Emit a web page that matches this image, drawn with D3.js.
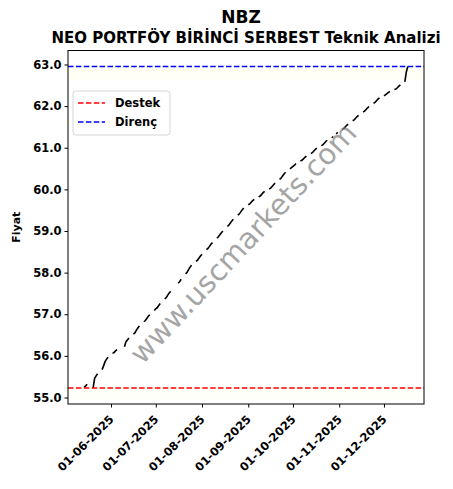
<!DOCTYPE html>
<html>
<head>
<meta charset="utf-8">
<script src="https://cdn.jsdelivr.net/npm/d3@7"></script>
<style>
  body { margin: 0; background: #fff; }
  text { font-family: "DejaVu Sans", sans-serif; font-weight: bold; }
</style>
</head>
<body>
<div id="chart"></div>
<script>
// Chart data: trading days per month and closing prices
var months = ["2025-05", "2025-06", "2025-07", "2025-08", "2025-09", "2025-10", "2025-11", "2025-12"];
var days = [
  [14, 15, 16, 20, 21, 22, 23, 26, 27, 28, 29, 30],
  [2, 3, 4, 5, 10, 11, 12, 13, 16, 17, 18, 19, 20, 23, 24, 25, 26, 27, 30],
  [1, 2, 3, 4, 7, 8, 9, 10, 11, 14, 16, 17, 18, 21, 22, 23, 24, 25, 28, 29, 30, 31],
  [1, 4, 5, 6, 7, 8, 11, 12, 13, 14, 15, 18, 19, 20, 21, 22, 25, 26, 27, 28, 29],
  [1, 2, 3, 4, 5, 8, 9, 10, 11, 12, 15, 16, 17, 18, 19, 22, 23, 24, 25, 26, 29, 30],
  [1, 2, 3, 6, 7, 8, 9, 10, 13, 14, 15, 16, 17, 20, 21, 22, 23, 24, 27, 28, 30, 31],
  [3, 4, 5, 6, 7, 10, 11, 12, 13, 14, 17, 18, 19, 20, 21, 24, 25, 26, 27, 28],
  [1, 2, 3, 4, 5, 8, 9, 10, 11, 12, 15, 16, 17]
];
var prices = [
  [55.25, 55.28, 55.32, 55.23, 55.46, 55.52, 55.57, 55.67, 55.76, 55.86, 55.92, 55.97],
  [56.06, 56.08, 56.12, 56.15, 56.22, 56.34, 56.38, 56.43, 56.52, 56.55, 56.62, 56.67, 56.72, 56.82, 56.85, 56.90, 56.95, 56.99, 57.09],
  [57.13, 57.16, 57.21, 57.26, 57.37, 57.40, 57.46, 57.51, 57.55, 57.66, 57.75, 57.78, 57.84, 57.97, 58.01, 58.07, 58.13, 58.18, 58.27, 58.30, 58.35, 58.40],
  [58.44, 58.55, 58.58, 58.63, 58.68, 58.72, 58.83, 58.86, 58.91, 58.96, 59.00, 59.11, 59.14, 59.19, 59.24, 59.28, 59.38, 59.41, 59.46, 59.51, 59.55],
  [59.63, 59.65, 59.69, 59.73, 59.76, 59.82, 59.84, 59.88, 59.92, 59.95, 60.01, 60.03, 60.07, 60.11, 60.15, 60.24, 60.27, 60.32, 60.37, 60.41, 60.49, 60.52],
  [60.55, 60.58, 60.62, 60.68, 60.70, 60.73, 60.77, 60.80, 60.86, 60.88, 60.92, 60.96, 60.99, 61.05, 61.07, 61.11, 61.15, 61.18, 61.24, 61.27, 61.33, 61.37],
  [61.44, 61.46, 61.50, 61.54, 61.57, 61.65, 61.67, 61.71, 61.75, 61.78, 61.86, 61.88, 61.92, 61.96, 61.99, 62.07, 62.09, 62.13, 62.17, 62.20],
  [62.25, 62.27, 62.30, 62.33, 62.35, 62.40, 62.41, 62.44, 62.48, 62.51, 62.58, 62.82, 62.95]
];
var yTicks = [55, 56, 57, 58, 59, 60, 61, 62, 63];
var legendLabels = ["Destek", "Direnç"];

var svgWidth = 453;
var svgHeight = 489;
var margin = { top: 50.5, right: 29, bottom: 85, left: 68 };
var width = svgWidth - margin.left - margin.right;
var height = svgHeight - margin.top - margin.bottom;

var parseDate = d3.timeParse("%Y-%m-%d");
var data = [];
months.forEach(function(m, i) {
  days[i].forEach(function(dd, j) {
    data.push({ date: parseDate(m + "-" + (dd < 10 ? "0" + dd : dd)), price: prices[i][j] });
  });
});

// split into runs of consecutive calendar days (weekends/holidays are gaps)
var segments = [];
var cur = [];
data.forEach(function(d, i) {
  if (i > 0 && (d.date - data[i - 1].date) > 86400000 * 1.5) {
    segments.push(cur);
    cur = [];
  }
  cur.push(d);
});
segments.push(cur);

var support = d3.min(data, d => d.price);
var resistance = d3.max(data, d => d.price);

var svg = d3.select("#chart").append("svg")
  .attr("width", svgWidth)
  .attr("height", svgHeight);

var chart = svg.append("g")
  .attr("transform", `translate(${margin.left}, ${margin.top})`);

var tExt = d3.extent(data, d => d.date);
var tPad = (tExt[1] - tExt[0]) * 0.05;
var xScale = d3.scaleTime()
  .domain([new Date(+tExt[0] - tPad), new Date(+tExt[1] + tPad)])
  .range([0, width]);

var yPad = (resistance - support) * 0.05;
var yScale = d3.scaleLinear()
  .domain([support - yPad, resistance + yPad])
  .range([height, 0]);

// faint bands near support / resistance
chart.append("rect")
  .attr("x", 0).attr("width", width)
  .attr("y", yScale(resistance))
  .attr("height", yScale(resistance * 0.995) - yScale(resistance))
  .attr("fill", "yellow").attr("opacity", 0.035);
chart.append("rect")
  .attr("x", 0).attr("width", width)
  .attr("y", yScale(support))
  .attr("height", yScale(support * 0.995) - yScale(support))
  .attr("fill", "yellow").attr("opacity", 0.025);

// price line
var line = d3.line()
  .x(d => xScale(d.date))
  .y(d => yScale(d.price));

chart.selectAll(".seg").data(segments).enter()
  .append("path")
  .attr("class", "seg")
  .attr("d", line)
  .attr("fill", "none")
  .attr("stroke", "black")
  .attr("stroke-width", 1.6);

// support / resistance lines
chart.append("line")
  .attr("x1", 0).attr("x2", width)
  .attr("y1", yScale(support)).attr("y2", yScale(support))
  .attr("stroke", "#ff0000").attr("stroke-width", 1.5)
  .attr("stroke-dasharray", "5.5,2.4");
chart.append("line")
  .attr("x1", 0).attr("x2", width)
  .attr("y1", yScale(resistance)).attr("y2", yScale(resistance))
  .attr("stroke", "#0000ff").attr("stroke-width", 1.5)
  .attr("stroke-dasharray", "5.5,2.4");

// watermark
svg.append("text")
  .attr("transform", "translate(243, 243) rotate(-47)")
  .attr("text-anchor", "middle")
  .attr("dy", "0.35em")
  .attr("font-size", "29px")
  .style("font-weight", "normal")
  .attr("fill", "#808080")
  .attr("opacity", 0.7)
  .text("www.uscmarkets.com");

// axes
var xAxis = d3.axisBottom(xScale)
  .ticks(d3.timeMonth.every(1))
  .tickFormat(d3.timeFormat("%d-%m-%Y"))
  .tickSizeOuter(0)
  .tickSize(3.5);
var yAxis = d3.axisLeft(yScale)
  .tickValues(yTicks)
  .tickFormat(d3.format(".1f"))
  .tickSizeOuter(0)
  .tickSize(3.5);

var gx = chart.append("g")
  .attr("transform", `translate(0, ${height})`)
  .call(xAxis);
gx.select(".domain").remove();
gx.selectAll("text")
  .attr("font-size", "11.5px")
  .attr("fill", "black")
  .attr("text-anchor", "end")
  .attr("dy", null)
  .attr("y", 0)
  .attr("transform", "translate(3, 16) rotate(-45)");

var gy = chart.append("g").call(yAxis);
gy.select(".domain").remove();
gy.selectAll("text")
  .attr("font-size", "11.5px")
  .attr("fill", "black");

chart.append("rect")
  .attr("width", width).attr("height", height)
  .attr("fill", "none").attr("stroke", "black").attr("stroke-width", 1);

// axis label
svg.append("text")
  .attr("transform", `translate(20, ${margin.top + height / 2}) rotate(-90)`)
  .attr("text-anchor", "middle")
  .attr("font-size", "11px")
  .text("Fiyat");

// titles
svg.append("text")
  .attr("x", 241).attr("y", 23)
  .attr("text-anchor", "middle")
  .attr("font-size", "17px")
  .text("NBZ");
svg.append("text")
  .attr("x", 246).attr("y", 42.5)
  .attr("text-anchor", "middle")
  .attr("font-size", "15px")
  .text("NEO PORTFÖY BİRİNCİ SERBEST Teknik Analizi");

// legend
var legend = svg.append("g").attr("transform", "translate(73, 91)");
legend.append("rect")
  .attr("width", 97).attr("height", 44)
  .attr("rx", 3)
  .attr("fill", "white").attr("fill-opacity", 0.8)
  .attr("stroke", "#d6d6d6");
var legendColors = ["#ff0000", "#0000ff"];
legendLabels.forEach(function(lab, i) {
  var yy = 12 + i * 19;
  legend.append("line")
    .attr("x1", 5).attr("x2", 32)
    .attr("y1", yy).attr("y2", yy)
    .attr("stroke", legendColors[i]).attr("stroke-width", 1.5)
    .attr("stroke-dasharray", "5.5,2.4");
  legend.append("text")
    .attr("x", 42).attr("y", yy)
    .attr("dy", "0.35em")
    .attr("font-size", "11.5px")
    .text(lab);
});
</script>
</body>
</html>
